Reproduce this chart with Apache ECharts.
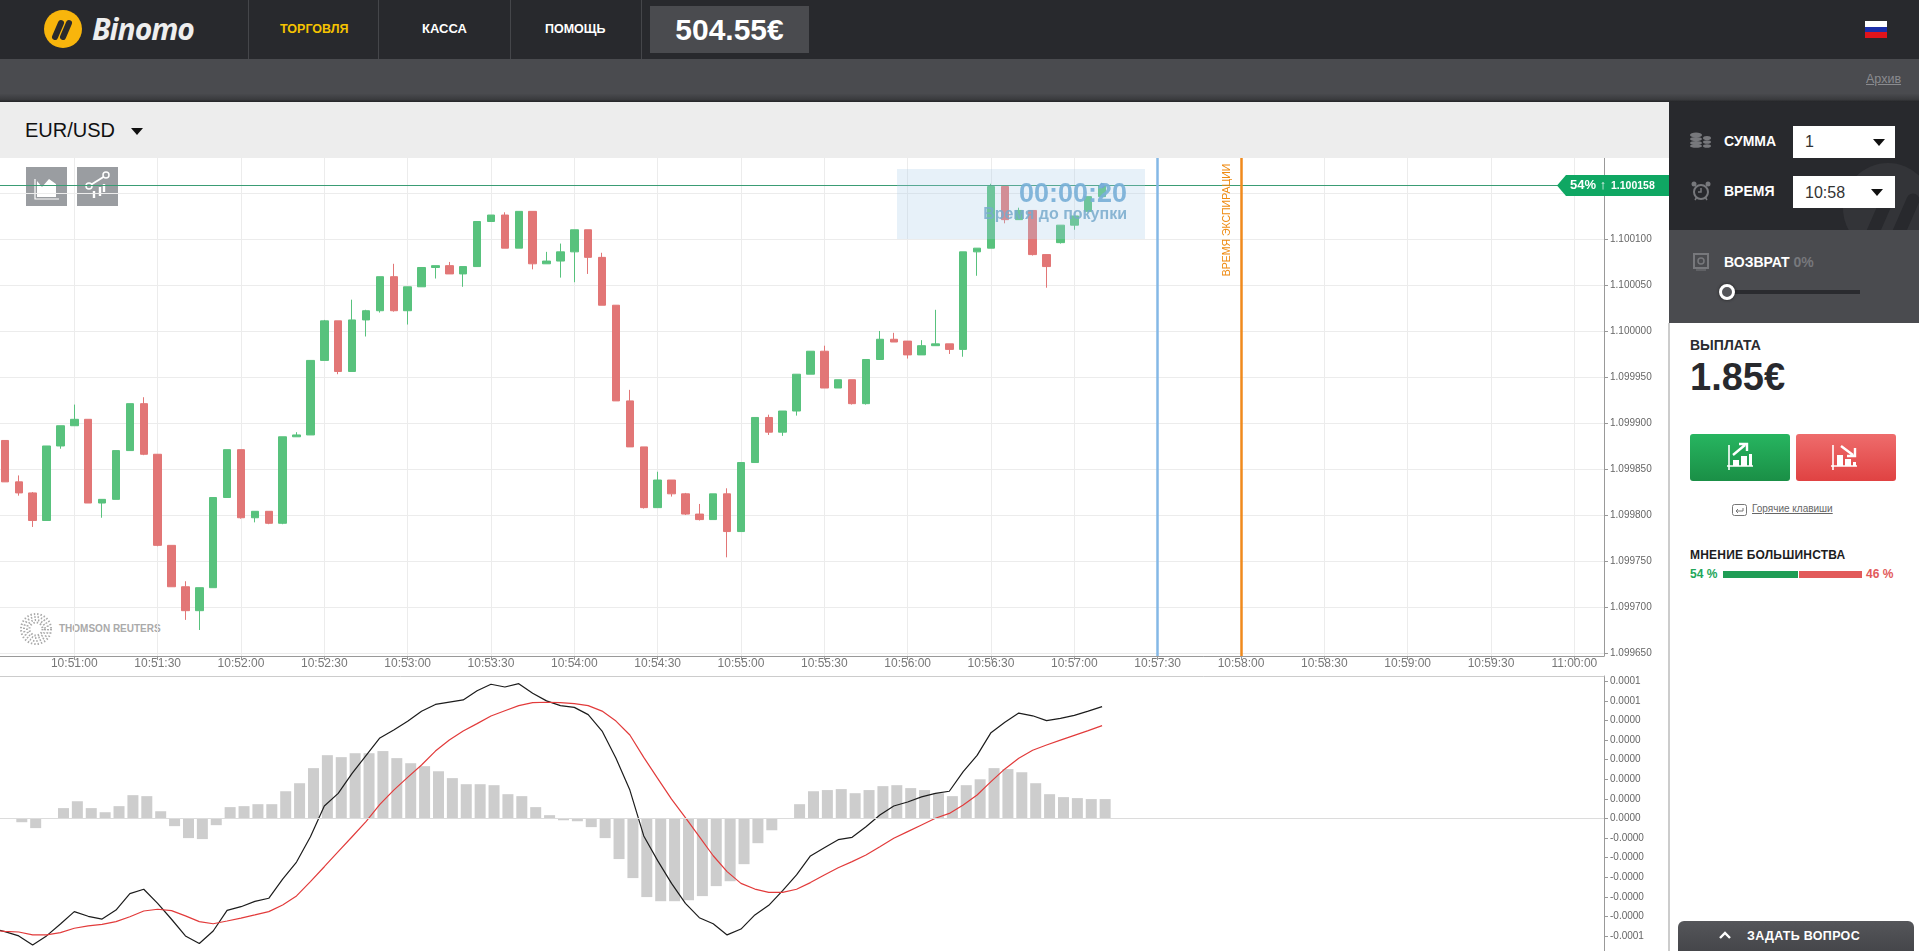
<!DOCTYPE html>
<html lang="ru">
<head>
<meta charset="utf-8">
<title>Binomo EUR/USD</title>
<script src="https://cdn.jsdelivr.net/npm/echarts@6/dist/echarts.min.js"></script>
<style>
html,body{margin:0;padding:0;width:1919px;height:951px;overflow:hidden;background:#fff;font-family:"Liberation Sans",Arial,sans-serif}
.abs{position:absolute;white-space:nowrap}
.b{font-weight:bold}
#chart{position:absolute;left:0;top:158px;width:1669px;height:793px;z-index:2}
.tri{position:absolute;width:0;height:0;border-left:6px solid transparent;border-right:6px solid transparent;border-top:7px solid #111}
</style>
</head>
<body>
<!-- top bar -->
<div class="abs" style="left:0;top:0;width:1919px;height:59px;background:#28292d"></div>
<div class="abs" style="left:0;top:59px;width:1919px;height:43px;background:linear-gradient(#4a4b4f 80%,#3a3b3e 94%,#232427)"></div>
<svg class="abs" style="left:44px;top:10px" width="38" height="38" viewBox="0 0 38 38">
  <circle cx="19" cy="19" r="19" fill="#f8b50c"/>
  <path d="M11 27 L17 13 M19 27 L25 13" stroke="#2a2a2c" stroke-width="6" stroke-linecap="round"/>
</svg>
<div class="abs b" style="left:92px;top:10px;font:italic bold 30px/38px 'Open Sans';color:#eee;letter-spacing:-1px">Binomo</div>
<div class="abs" style="left:248px;top:0;width:1px;height:59px;background:#45464a"></div>
<div class="abs" style="left:378px;top:0;width:1px;height:59px;background:#45464a"></div>
<div class="abs" style="left:510px;top:0;width:1px;height:59px;background:#45464a"></div>
<div class="abs" style="left:641px;top:0;width:1px;height:59px;background:#45464a"></div>
<div class="abs b" style="left:280px;top:21px;font-size:12.5px;line-height:16px;color:#f6c300">ТОРГОВЛЯ</div>
<div class="abs b" style="left:422px;top:21px;font-size:13px;line-height:16px;color:#fff">КАССА</div>
<div class="abs b" style="left:545px;top:21px;font-size:12.5px;line-height:16px;color:#fff">ПОМОЩЬ</div>
<div class="abs b" style="left:650px;top:6px;width:159px;height:47px;background:#4a4b4f;color:#fff;font-size:30px;line-height:47px;text-align:center">504.55€</div>
<div class="abs" style="left:1865px;top:21px;width:22px;height:17px;background:linear-gradient(#fff 33%,#1c2fa8 33%,#1c2fa8 66%,#e0141c 66%)"></div>
<div class="abs" style="left:1866px;top:71px;font-size:12.5px;line-height:16px;color:#8a8b8f;text-decoration:underline">Архив</div>

<!-- pair bar -->
<div class="abs" style="left:0;top:102px;width:1669px;height:56px;background:#ededed"></div>
<div class="abs" style="left:25px;top:119px;font-size:20px;line-height:22px;color:#111">EUR/USD</div>
<div class="tri" style="left:131px;top:128px"></div>

<!-- things that sit under the chart canvas -->
<div class="abs" style="left:26px;top:167px;width:41px;height:39px;background:#9a9da1;z-index:1">
  <svg width="41" height="39"><path d="M9 12 V32 H33" fill="none" stroke="#fff" stroke-width="1.2"/><path d="M11 30 V14 L16 20 L23 12 L30 17 V30 Z" fill="#fff"/></svg>
</div>
<div class="abs" style="left:77px;top:167px;width:41px;height:39px;background:#9a9da1;z-index:1">
  <svg width="41" height="39"><path d="M12 19 L28 9" stroke="#fff" stroke-width="2"/><circle cx="12" cy="19" r="3" fill="#9a9da1" stroke="#fff" stroke-width="1.5"/><circle cx="29" cy="8" r="3" fill="#9a9da1" stroke="#fff" stroke-width="1.5"/><path d="M17 24 V31 M23 20 V29 M27 17 V25" stroke="#fff" stroke-width="2.4"/></svg>
</div>
<svg class="abs" style="left:20px;top:613px;z-index:1" width="34" height="34">
  <g fill="none" stroke="#a9a9a9" stroke-width="2" stroke-dasharray="1.4 2">
    <circle cx="16" cy="16" r="15"/><circle cx="16" cy="16" r="12"/><circle cx="16" cy="16" r="9"/><circle cx="16" cy="16" r="6.5"/>
  </g>
</svg>
<div class="abs b" style="left:59px;top:622px;font-size:10px;line-height:14px;color:#aaa;z-index:1">THOMSON REUTERS</div>

<div id="chart"></div>

<!-- right panel -->
<div class="abs" style="left:1669px;top:102px;width:250px;height:128px;background:#28292d;overflow:hidden">
  <svg class="abs" style="left:174px;top:60px" width="90" height="90"><circle cx="45" cy="46" r="45" fill="#333438"/><path d="M30 70 L44 38 M56 70 L70 38" stroke="#28292d" stroke-width="13" stroke-linecap="round"/></svg>
</div>
<div class="abs" style="left:1669px;top:230px;width:250px;height:93px;background:#4a4b4f"></div>
<div class="abs" style="left:1668px;top:323px;width:2px;height:628px;background:#ccc"></div>

<svg class="abs" style="left:1689px;top:132px" width="24" height="16"><g fill="#77787c"><ellipse cx="7" cy="3" rx="6" ry="2.5"/><ellipse cx="7" cy="7" rx="6" ry="2"/><ellipse cx="7" cy="11" rx="6" ry="2"/><ellipse cx="7" cy="14" rx="6" ry="1.8"/><ellipse cx="18" cy="6" rx="4" ry="2"/><ellipse cx="18" cy="10" rx="4" ry="1.8"/><ellipse cx="18" cy="14" rx="4" ry="1.8"/></g></svg>
<svg class="abs" style="left:1691px;top:181px" width="20" height="20"><circle cx="10" cy="11" r="7" fill="none" stroke="#77787c" stroke-width="2"/><path d="M10 7 V11 H7 M4 19 L6 16 M16 19 L14 16" stroke="#77787c" stroke-width="1.5" fill="none"/><circle cx="3" cy="3" r="2.5" fill="#77787c"/><circle cx="17" cy="3" r="2.5" fill="#77787c"/></svg>
<div class="abs b" style="left:1724px;top:133px;font-size:14px;line-height:17px;color:#fff">СУММА</div>
<div class="abs b" style="left:1724px;top:183px;font-size:14px;line-height:17px;color:#fff">ВРЕМЯ</div>
<div class="abs" style="left:1793px;top:126px;width:102px;height:32px;background:#fff"></div>
<div class="abs" style="left:1805px;top:132px;font-size:16px;line-height:20px;color:#333">1</div>
<div class="tri" style="left:1873px;top:139px"></div>
<div class="abs" style="left:1793px;top:176px;width:102px;height:32px;background:#fff"></div>
<div class="abs" style="left:1805px;top:183px;font-size:16px;line-height:20px;color:#333">10:58</div>
<div class="tri" style="left:1871px;top:189px"></div>

<svg class="abs" style="left:1693px;top:253px" width="16" height="18"><rect x="1" y="1" width="14" height="14" fill="none" stroke="#77787c" stroke-width="2"/><circle cx="8" cy="8" r="3" fill="none" stroke="#77787c" stroke-width="1.5"/><path d="M3 17 H13" stroke="#77787c"/></svg>
<div class="abs b" style="left:1724px;top:254px;font-size:14px;line-height:17px;color:#fff">ВОЗВРАТ <span style="color:#77787c">0%</span></div>
<div class="abs" style="left:1727px;top:290px;width:133px;height:4px;background:#2a2b2f"></div>
<div class="abs" style="left:1719px;top:284px;width:10px;height:10px;border:3px solid #fff;border-radius:50%;background:#55565a;box-shadow:0 0 3px #222"></div>

<div class="abs b" style="left:1690px;top:337px;font-size:14px;line-height:17px;color:#2a2b2f">ВЫПЛАТА</div>
<div class="abs b" style="left:1690px;top:356px;font-size:38px;line-height:42px;color:#28292d">1.85€</div>

<div class="abs" style="left:1690px;top:434px;width:100px;height:47px;border-radius:3px;background:linear-gradient(#27b560,#1a8f46)">
  <svg width="100" height="47"><path d="M39 11 V36 M37 32 H63" stroke="#fff" stroke-width="1.6" fill="none"/><path d="M43 32 V26 H49 V32 Z M51 32 V22 H57 V32 Z M59 32 V20 H62 V32 Z" fill="#fff"/><path d="M43 21 L55 11 M49 10 H57 V17" stroke="#fff" stroke-width="2.4" fill="none"/></svg>
</div>
<div class="abs" style="left:1796px;top:434px;width:100px;height:47px;border-radius:3px;background:linear-gradient(#ee6c6c,#e04242)">
  <svg width="100" height="47"><path d="M37 11 V36 M35 32 H61" stroke="#fff" stroke-width="1.6" fill="none"/><path d="M41 32 V21 H47 V32 Z M49 32 V25 H55 V32 Z M57 32 V28 H60 V32 Z" fill="#fff"/><path d="M45 12 L57 21 M59 14 V22 H51" stroke="#fff" stroke-width="2.4" fill="none"/></svg>
</div>

<svg class="abs" style="left:1732px;top:504px" width="15" height="12"><rect x="0.5" y="0.5" width="14" height="11" rx="2" fill="none" stroke="#777"/><path d="M11 4 V7 H4 M6 5 L4 7 L6 9" fill="none" stroke="#777"/></svg>
<div class="abs" style="left:1752px;top:502px;font-size:10px;line-height:14px;color:#666;text-decoration:underline">Горячие клавиши</div>

<div class="abs b" style="left:1690px;top:547px;font-size:12px;line-height:16px;color:#1c1c1e;letter-spacing:.2px">МНЕНИЕ БОЛЬШИНСТВА</div>
<div class="abs b" style="left:1690px;top:567px;font-size:12px;line-height:15px;color:#22a65a">54 %</div>
<div class="abs" style="left:1723px;top:571px;width:75px;height:7px;background:#1f9d55"></div>
<div class="abs" style="left:1799px;top:571px;width:63px;height:7px;background:#e25a5a"></div>
<div class="abs b" style="left:1866px;top:567px;font-size:12px;line-height:15px;color:#e25a5a">46 %</div>

<div class="abs" style="left:1678px;top:921px;width:236px;height:30px;border-radius:6px 6px 0 0;background:linear-gradient(#55565a,#45464a)"></div>
<svg class="abs" style="left:1718px;top:930px" width="14" height="10"><path d="M2 8 L7 3 L12 8" fill="none" stroke="#fff" stroke-width="2.4"/></svg>
<div class="abs b" style="left:1747px;top:928px;font-size:12.5px;line-height:16px;color:#fff;letter-spacing:.3px">ЗАДАТЬ ВОПРОС</div>

<script>
// candle times, 5 second bars
const candleTimes = [
    '10:50:35','10:50:40','10:50:45','10:50:50','10:50:55','10:51:00','10:51:05','10:51:10','10:51:15','10:51:20',
    '10:51:25','10:51:30','10:51:35','10:51:40','10:51:45','10:51:50','10:51:55','10:52:00','10:52:05','10:52:10',
    '10:52:15','10:52:20','10:52:25','10:52:30','10:52:35','10:52:40','10:52:45','10:52:50','10:52:55','10:53:00',
    '10:53:05','10:53:10','10:53:15','10:53:20','10:53:25','10:53:30','10:53:35','10:53:40','10:53:45','10:53:50',
    '10:53:55','10:54:00','10:54:05','10:54:10','10:54:15','10:54:20','10:54:25','10:54:30','10:54:35','10:54:40',
    '10:54:45','10:54:50','10:54:55','10:55:00','10:55:05','10:55:10','10:55:15','10:55:20','10:55:25','10:55:30',
    '10:55:35','10:55:40','10:55:45','10:55:50','10:55:55','10:56:00','10:56:05','10:56:10','10:56:15','10:56:20',
    '10:56:25','10:56:30','10:56:35','10:56:40','10:56:45','10:56:50','10:56:55','10:57:00','10:57:05','10:57:10'
];

// prices in millionths above priceBase
const priceBase = 1.0996;
const candleOpen = [281,236,224,194,275,297,304,213,217,270,321,266,167,122,96,121,219,271,197,204,191,285,287,368,411,356,412,422,459,422,448,469,471,462,470,519,526,490,530,473,476,486,510,480,428,324,274,208,238,223,201,195,223,182,257,306,290,313,353,378,338,347,321,369,391,389,374,384,386,380,486,490,557,521,531,483,496,515,530,546];
const candleClose = [236,224,194,275,297,304,213,217,270,321,266,167,122,96,121,219,271,197,204,191,285,287,368,411,356,412,422,459,422,448,469,471,462,470,519,526,490,530,473,476,486,510,480,428,324,274,208,238,223,201,195,223,182,257,306,290,313,353,378,338,347,321,369,391,388,374,384,386,380,486,490,557,521,531,483,470,515,525,546,558];
const candleLow = [236,221,187,194,272,297,213,197,217,270,265,166,122,86,75,121,219,196,192,190,190,285,287,368,353,356,394,420,421,407,448,457,462,448,470,519,490,490,467,473,458,453,462,428,324,274,207,208,220,200,194,195,154,182,257,287,286,308,353,338,338,320,320,369,388,370,374,384,375,372,460,490,517,521,482,447,495,510,530,546];
const candleHigh = [281,243,225,275,297,320,304,217,270,321,328,266,167,128,121,219,271,271,204,204,285,290,368,412,411,434,423,459,473,448,469,471,475,470,519,526,529,530,530,486,495,510,510,485,428,336,274,247,238,224,212,223,229,257,306,309,313,353,378,384,347,347,369,400,398,389,390,423,386,486,490,560,557,534,531,483,515,525,546,561];

// MACD values in units of 0.98e-5, first histogram bar is at 10:50:40
const macdHist = [-0.19,-0.49,0,0.53,0.88,0.53,0.32,0.63,1.19,1.14,0.37,-0.39,-1.0,-1.05,-0.34,0.58,0.63,0.73,0.73,1.39,1.8,2.57,3.23,3.13,3.33,3.33,3.44,3.08,2.82,2.67,2.41,2.06,1.75,1.75,1.7,1.24,1.14,0.58,0.17,-0.09,-0.14,-0.44,-1.0,-2.07,-3.04,-4.01,-4.22,-4.22,-4.17,-3.96,-3.45,-3.2,-2.33,-1.26,-0.6,0,0.73,1.39,1.45,1.5,1.29,1.45,1.65,1.7,1.55,1.45,1.29,1.14,1.7,2.0,2.57,2.52,2.36,1.8,1.24,1.09,1.04,0.99,0.99];
// lines start one step before the first candle, at 10:50:30
const macdLine = [-5.6,-5.77,-5.99,-6.45,-5.99,-5.38,-4.75,-4.99,-5.13,-4.67,-3.83,-3.61,-4.33,-5.14,-5.99,-6.38,-5.74,-4.69,-4.5,-4.23,-4.07,-3.09,-2.22,-0.93,0.64,1.28,2.3,3.21,4.11,4.52,4.96,5.47,5.82,5.94,6.05,6.52,6.85,6.71,6.88,6.39,6.0,5.76,5.67,5.3,4.46,3.07,1.45,-0.89,-2.15,-3.31,-4.33,-5.06,-5.37,-5.94,-5.64,-4.92,-4.43,-3.68,-2.88,-1.91,-1.49,-1.08,-0.96,-0.42,0.18,0.64,0.84,1.1,1.28,1.39,2.39,3.22,4.38,4.91,5.38,5.24,4.99,5.11,5.26,5.48,5.71];
const signalLine = [-5.7,-5.76,-5.79,-5.94,-5.94,-5.82,-5.6,-5.48,-5.4,-5.26,-5.01,-4.72,-4.63,-4.7,-4.97,-5.26,-5.37,-5.23,-5.08,-4.92,-4.75,-4.41,-3.95,-3.22,-2.46,-1.69,-0.93,-0.16,0.72,1.45,2.1,2.73,3.44,4.0,4.46,4.84,5.23,5.5,5.76,5.91,5.93,5.91,5.86,5.76,5.48,4.97,4.26,3.12,2.05,0.99,0.04,-0.93,-1.9,-2.71,-3.31,-3.6,-3.77,-3.77,-3.61,-3.27,-2.88,-2.51,-2.2,-1.86,-1.44,-1.01,-0.67,-0.33,0.01,0.26,0.69,1.2,1.88,2.53,3.07,3.48,3.75,4.0,4.24,4.48,4.74];

const priceTicks = [1.09965,1.0997,1.09975,1.0998,1.09985,1.0999,1.09995,1.1,1.10005,1.1001,1.10015];
const macdTicks = [-6,-5,-4,-3,-2,-1,0,1,2,3,4,5,6,7];
const timeTicks = ['10:51:00','10:51:30','10:52:00','10:52:30','10:53:00','10:53:30','10:54:00','10:54:30','10:55:00','10:55:30','10:56:00','10:56:30','10:57:00','10:57:30','10:58:00','10:58:30','10:59:00','10:59:30','11:00:00'];

const currentPrice = 1.100158;
const purchaseTime = '10:57:30';
const expiryTime = '10:58:00';

const toSec = function (s) {
    const p = s.split(':');
    return p[0] * 3600 + p[1] * 60 + p[2] * 1;
};
const pad = function (n) {
    return (n < 10 ? '0' : '') + n;
};
const timeLabel = function (v) {
    return pad(Math.floor(v / 3600)) + ':' + pad(Math.floor(v / 60) % 60) + ':' + pad(v % 60);
};

const xMin = toSec('10:50:33') + 0.25;
const xMax = xMin + 1604 / 2.7778;
const yMin = 1.09964674;
const yMax = 1.100188;
const fontFamily = '"Liberation Sans", Arial, sans-serif';
const upColor = '#58c27d';
const downColor = '#e27676';

const candleData = candleTimes.map(function (t, i) {
    return [toSec(t), priceBase + candleOpen[i] * 1e-6, priceBase + candleClose[i] * 1e-6,
        priceBase + candleLow[i] * 1e-6, priceBase + candleHigh[i] * 1e-6];
});
const lineTimes = ['10:50:30'].concat(candleTimes);
const histData = macdHist.map(function (v, i) {
    // bars sit about 3px right of the candle centre in the original
    return [toSec(candleTimes[i + 1]) + 1.1, v];
});

const chart = echarts.init(document.getElementById('chart'), null, {renderer: 'canvas'});
chart.setOption({
    animation: false,
    backgroundColor: 'transparent',
    textStyle: {fontFamily: fontFamily},
    grid: [
        {left: 0, right: 65, top: 0, height: 498},
        {left: 0, right: 65, top: 518, bottom: 0}
    ],
    xAxis: [
        {
            type: 'value', gridIndex: 0, min: xMin, max: xMax, position: 'bottom',
            axisLine: {show: true, onZero: false, lineStyle: {color: '#999'}},
            axisTick: {show: true, length: 4, customValues: timeTicks.map(toSec), lineStyle: {color: '#999'}},
            axisLabel: {customValues: timeTicks.map(toSec), formatter: timeLabel, color: '#777', fontSize: 12, margin: 2, fontFamily: fontFamily},
            splitLine: {show: true, lineStyle: {color: '#ececec'}}
        },
        {
            type: 'value', gridIndex: 1, min: xMin, max: xMax, position: 'top',
            axisLine: {show: true, onZero: false, lineStyle: {color: '#ccc'}},
            axisTick: {show: false},
            axisLabel: {show: false},
            splitLine: {show: false}
        }
    ],
    yAxis: [
        {
            type: 'value', gridIndex: 0, min: yMin, max: yMax, position: 'right',
            axisLine: {show: true, onZero: false, lineStyle: {color: '#999'}},
            axisTick: {show: true, length: 4, customValues: priceTicks, lineStyle: {color: '#999'}},
            axisLabel: {customValues: priceTicks, formatter: function (v) { return v.toFixed(6); }, color: '#666', fontSize: 10, margin: 6, fontFamily: fontFamily},
            splitLine: {show: true, lineStyle: {color: '#ececec'}}
        },
        {
            type: 'value', gridIndex: 1, min: -6.76, max: 7.27, position: 'right',
            axisLine: {show: true, onZero: false, lineStyle: {color: '#999'}},
            axisTick: {show: true, length: 4, customValues: macdTicks, lineStyle: {color: '#999'}},
            axisLabel: {customValues: macdTicks, formatter: function (v) { return (v * 0.98e-5).toFixed(4); }, color: '#666', fontSize: 10, margin: 6, fontFamily: fontFamily},
            splitLine: {show: false}
        }
    ],
    series: [
        {
            type: 'candlestick', name: 'EUR/USD', xAxisIndex: 0, yAxisIndex: 0,
            data: candleData,
            encode: {x: 0, y: [1, 2, 3, 4]},
            barWidth: 8,
            itemStyle: {color: upColor, color0: downColor, borderColor: upColor, borderColor0: downColor, borderWidth: 1},
            markLine: {
                silent: true, symbol: 'none', label: {show: false}, animation: false, precision: 6,
                data: [
                    {yAxis: currentPrice, lineStyle: {color: '#3a9c74', width: 1, type: 'solid'}},
                    {xAxis: toSec(purchaseTime), lineStyle: {color: '#85b8e6', width: 2.5, type: 'solid'}},
                    {xAxis: toSec(expiryTime), lineStyle: {color: '#f08a1d', width: 2.5, type: 'solid'}}
                ]
            },
            markPoint: {
                silent: true, symbol: 'circle', symbolSize: 5, label: {show: false},
                itemStyle: {color: '#5b8fd6'},
                data: [{coord: [toSec('10:57:10'), currentPrice]}]
            }
        },
        {
            type: 'bar', name: 'Histogram', xAxisIndex: 1, yAxisIndex: 1,
            data: histData, barWidth: 11,
            itemStyle: {color: '#cdcdcd'},
            markLine: {
                silent: true, symbol: 'none', label: {show: false}, animation: false,
                data: [{yAxis: 0, lineStyle: {color: '#dcdcdc', width: 1, type: 'solid'}}]
            }
        },
        {
            type: 'line', name: 'MACD', xAxisIndex: 1, yAxisIndex: 1, showSymbol: false,
            data: macdLine.map(function (v, i) { return [toSec(lineTimes[i]), v]; }),
            lineStyle: {color: '#1c1c1c', width: 1.2}
        },
        {
            type: 'line', name: 'Signal', xAxisIndex: 1, yAxisIndex: 1, showSymbol: false,
            data: signalLine.map(function (v, i) { return [toSec(lineTimes[i]), v]; }),
            lineStyle: {color: '#e23b3b', width: 1.2}
        }
    ],
    graphic: [
        // countdown box, lies over the candles
        {type: 'rect', z: 100, shape: {x: 897, y: 11, width: 248, height: 70}, style: {fill: 'rgba(170,205,235,0.28)'}},
        {type: 'text', z: 101, x: 1127, y: 36.5, style: {text: '00:00:20', font: 'bold 27px ' + fontFamily, fill: 'rgba(120,175,215,0.9)', align: 'right', verticalAlign: 'middle'}},
        {type: 'text', z: 101, x: 1127, y: 56.5, style: {text: 'Время до покупки', font: 'bold 16px ' + fontFamily, fill: 'rgba(120,170,205,0.85)', align: 'right', verticalAlign: 'middle'}},
        // expiry caption
        {type: 'text', z: 101, x: 1227, y: 62, rotation: Math.PI / 2, style: {text: 'ВРЕМЯ ЭКСПИРАЦИИ', font: '10.5px ' + fontFamily, fill: '#ef8a10', align: 'center', verticalAlign: 'middle'}},
        // price flag
        {type: 'polygon', z: 102, shape: {points: [[1557, 27.5], [1566, 17], [1669, 17], [1669, 38], [1566, 38]]}, style: {fill: '#0fa763'}},
        {type: 'text', z: 103, x: 1570, y: 27.5, style: {text: '54% ↑', font: 'bold 13px ' + fontFamily, fill: '#fff', verticalAlign: 'middle'}},
        {type: 'text', z: 103, x: 1611, y: 28, style: {text: '1.100158', font: 'bold 10.5px ' + fontFamily, fill: '#fff', verticalAlign: 'middle'}}
    ]
});
</script>
</body>
</html>
